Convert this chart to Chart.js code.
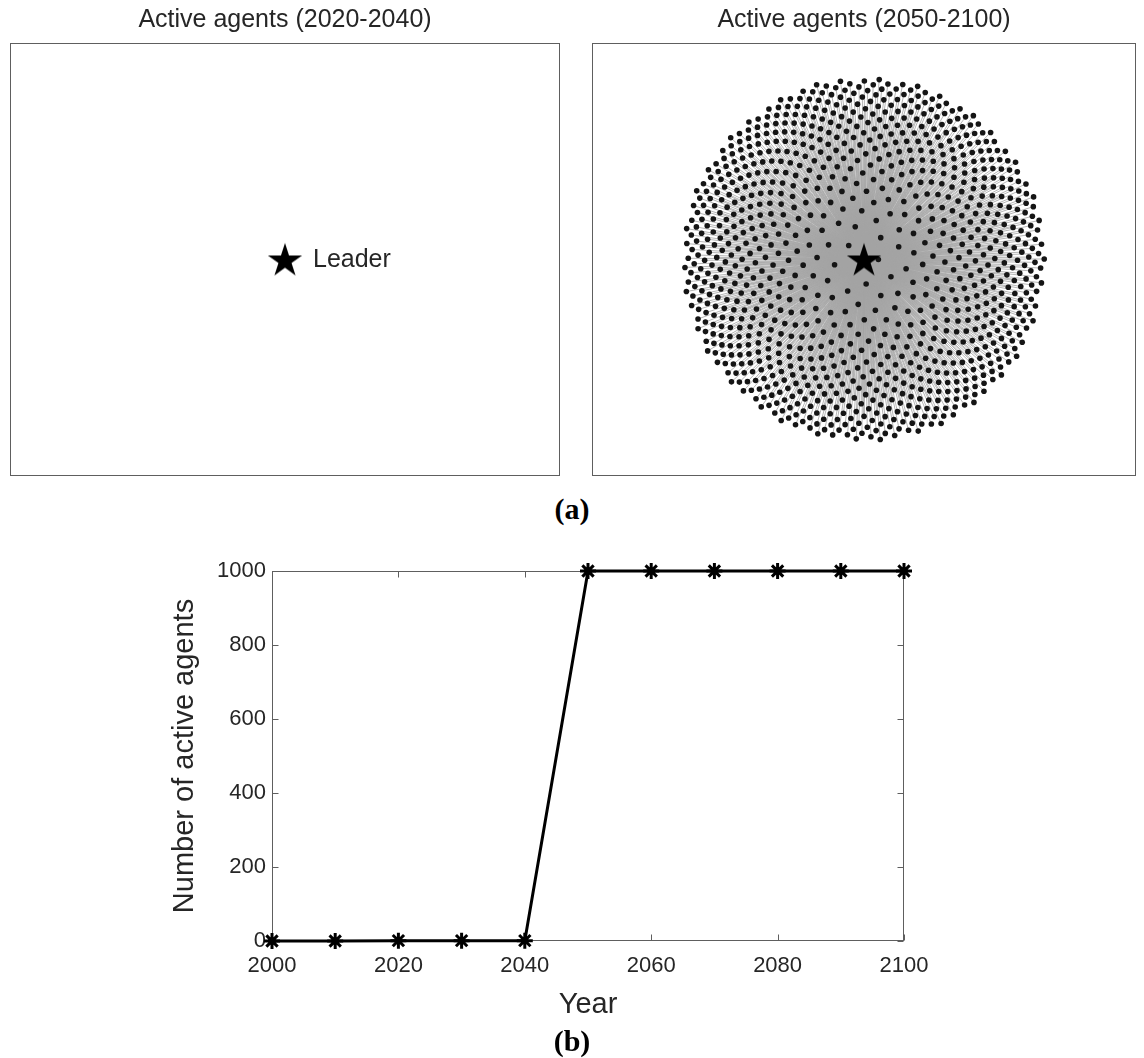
<!DOCTYPE html>
<html>
<head>
<meta charset="utf-8">
<script src="https://cdn.jsdelivr.net/npm/chart.js@4.4.1/dist/chart.umd.min.js"></script>
<style>
  body { margin: 0; background: #fff; width: 1144px; height: 1058px; position: relative; overflow: hidden; }
  canvas { position: absolute; }
  .cap { position: absolute; width: 100px; text-align: center; font-family: "Liberation Serif", "Times New Roman", serif;
         font-weight: bold; font-size: 30px; line-height: 30px; color: #000; }
</style>
</head>
<body>
<canvas id="early" width="550" height="476" style="left:10px;top:0"></canvas>
<canvas id="late" width="544" height="476" style="left:592px;top:0"></canvas>
<div class="cap" style="left:522px;top:494px">(a)</div>
<canvas id="growth" width="1144" height="480" style="left:0;top:545px"></canvas>
<div class="cap" style="left:522px;top:1026px">(b)</div>

<script>
'use strict';

/* ── Data ─────────────────────────────────────────────── */

var years        = [2000, 2010, 2020, 2030, 2040, 2050, 2060, 2070, 2080, 2090, 2100];
var activeAgents = [0, 0, 1, 1, 1, 1000, 1000, 1000, 1000, 1000, 1000];
var yearTicks    = [2000, 2020, 2040, 2060, 2080, 2100];
var agentTicks   = [0, 200, 400, 600, 800, 1000];

var panelTitles  = ['Active agents (2020-2040)', 'Active agents (2050-2100)'];
var leaderPos    = [0, 0];
var leaderLabel  = 'Leader';

/* 1000 agents around the leader in the 2050-2100 panel, laid out on a
   sunflower spiral that thins out towards the centre (as in the picture) */
var agentCount   = 1000;
var discRadius   = 1;
var radialPower  = 1 / 3;

/* ── Helpers ─────────────────────────────────────────── */

var FONT = '"Liberation Sans", Arial, Helvetica, sans-serif';
var INK  = '#262626';
var EDGE = '#5e5e5e';

function pentagram(outer) {
  var inner = outer * 0.382;
  var size  = Math.ceil(outer * 2) + 2;
  var c = document.createElement('canvas');
  c.width = size; c.height = size;
  var g = c.getContext('2d');
  g.translate(size / 2, size / 2 + outer * 0.08);
  g.beginPath();
  for (var i = 0; i < 10; i++) {
    var r = i % 2 ? inner : outer;
    var a = -Math.PI / 2 + i * Math.PI / 5;
    g.lineTo(r * Math.cos(a), r * Math.sin(a));
  }
  g.closePath();
  g.fillStyle = '#000';
  g.fill();
  return c;
}

function agentPoints() {
  var pts = [];
  var golden = Math.PI * (3 - Math.sqrt(5));
  for (var k = 0; k < agentCount; k++) {
    var r = discRadius * Math.pow((k + 0.5) / agentCount, radialPower);
    var a = k * golden;
    pts.push({ x: leaderPos[0] + r * Math.cos(a), y: leaderPos[1] + r * Math.sin(a) });
  }
  return pts;
}

/* spokes from the leader to every agent, broken by gaps */
function spokes(pts) {
  var out = [];
  pts.forEach(function (p) {
    out.push({ x: leaderPos[0], y: leaderPos[1] });
    out.push({ x: p.x, y: p.y });
    out.push({ x: p.x, y: null });
  });
  return out;
}

/* frame round the plot area */
var framePlugin = {
  id: 'frame',
  afterDraw: function (chart) {
    var a = chart.chartArea, ctx = chart.ctx;
    ctx.save();
    ctx.strokeStyle = EDGE;
    ctx.lineWidth = 1;
    ctx.strokeRect(a.left + 0.5, a.top + 0.5, a.right - a.left - 1, a.bottom - a.top - 1);
    ctx.restore();
  }
};

/* inward tick marks on all four sides + box */
var boxPlugin = {
  id: 'box',
  beforeDatasetsDraw: function (chart) {
    var a = chart.chartArea, ctx = chart.ctx;
    var xs = chart.scales.x, ys = chart.scales.y;
    var L = Math.round(a.left) + 0.5, R = Math.round(a.right) - 0.5;
    var T = Math.round(a.top) + 0.5, B = Math.round(a.bottom) - 0.5;
    var len = 6;
    ctx.save();
    ctx.strokeStyle = EDGE;
    ctx.lineWidth = 1;
    ctx.strokeRect(L, T, R - L, B - T);
    ctx.beginPath();
    xs.ticks.forEach(function (t) {
      var px = Math.round(xs.getPixelForValue(t.value)) + 0.5;
      ctx.moveTo(px, B); ctx.lineTo(px, B - len);
      ctx.moveTo(px, T); ctx.lineTo(px, T + len);
    });
    ys.ticks.forEach(function (t) {
      var py = Math.round(ys.getPixelForValue(t.value)) + 0.5;
      ctx.moveTo(L, py); ctx.lineTo(L + len, py);
      ctx.moveTo(R, py); ctx.lineTo(R - len, py);
    });
    ctx.stroke();
    ctx.restore();
  }
};

/* "Leader" text next to the star */
var leaderTextPlugin = {
  id: 'leaderText',
  afterDatasetsDraw: function (chart) {
    if (!chart.options.plugins.leaderText.show) return;
    var ctx = chart.ctx;
    var px = chart.scales.x.getPixelForValue(leaderPos[0]);
    var py = chart.scales.y.getPixelForValue(leaderPos[1]);
    ctx.save();
    ctx.font = '25px ' + FONT;
    ctx.fillStyle = INK;
    ctx.textBaseline = 'middle';
    ctx.fillText(leaderLabel, px + 28, py + 1);
    ctx.restore();
  }
};

function panelOptions(title, xHalf, yHalf, showLabel) {
  return {
    responsive: false,
    animation: false,
    events: [],
    layout: { padding: 0, autoPadding: false },
    plugins: {
      legend: { display: false },
      tooltip: { enabled: false },
      leaderText: { show: showLabel },
      title: {
        display: true,
        text: title,
        color: INK,
        font: { family: FONT, size: 25, weight: 'normal', lineHeight: 1.2 },
        padding: { top: 5, bottom: 8 }
      }
    },
    scales: {
      x: { type: 'linear', display: false, min: -xHalf, max: xHalf },
      y: { type: 'linear', display: false, min: -yHalf, max: yHalf }
    }
  };
}

var star = pentagram(18);

/* ── Panel (a), left: leader only ─────────────────────── */

new Chart(document.getElementById('early'), {
  type: 'scatter',
  data: {
    datasets: [{
      data: [{ x: leaderPos[0], y: leaderPos[1] }],
      pointStyle: star,
      pointRadius: 18
    }]
  },
  options: panelOptions(panelTitles[0], 275 / 181, 216 / 181, true),
  plugins: [framePlugin, leaderTextPlugin]
});

/* ── Panel (a), right: leader and agents ──────────────── */

var agents = agentPoints();

new Chart(document.getElementById('late'), {
  type: 'scatter',
  data: {
    datasets: [
      {
        data: [{ x: leaderPos[0], y: leaderPos[1] }],
        pointStyle: star,
        pointRadius: 18,
        order: 0
      },
      {
        data: agents,
        pointRadius: 2.8,
        pointBackgroundColor: '#151515',
        pointBorderWidth: 0,
        order: 1
      },
      {
        data: spokes(agents),
        showLine: true,
        spanGaps: false,
        borderColor: '#a3a3a3',
        borderWidth: 0.8,
        pointRadius: 0,
        order: 2
      }
    ]
  },
  options: panelOptions(panelTitles[1], 272 / 181, 216 / 181, false),
  plugins: [framePlugin, leaderTextPlugin]
});

/* ── Panel (b): number of active agents per year ──────── */

function plain(v) { return String(v); }

new Chart(document.getElementById('growth'), {
  type: 'scatter',
  data: {
    datasets: [{
      data: years.map(function (y, i) { return { x: y, y: activeAgents[i] }; }),
      showLine: true,
      borderColor: '#000',
      borderWidth: 3,
      pointStyle: 'star',
      pointRadius: 8,
      pointBorderColor: '#000',
      pointBorderWidth: 3,
      clip: false
    }]
  },
  options: {
    responsive: false,
    animation: false,
    events: [],
    layout: { padding: { left: 160, right: 240, top: 26, bottom: 4 }, autoPadding: false },
    plugins: { legend: { display: false }, tooltip: { enabled: false } },
    scales: {
      x: {
        type: 'linear',
        min: yearTicks[0],
        max: yearTicks[yearTicks.length - 1],
        afterBuildTicks: function (s) { s.ticks = yearTicks.map(function (v) { return { value: v }; }); },
        afterFit: function (s) { s.height = 80; },
        grid: { display: false, drawTicks: false },
        border: { display: false },
        ticks: { color: INK, padding: 12, maxRotation: 0, callback: plain, font: { family: FONT, size: 22 } },
        title: {
          display: true, text: 'Year', color: INK,
          font: { family: FONT, size: 29, lineHeight: 1 },
          padding: { top: 0, bottom: 2 }
        }
      },
      y: {
        type: 'linear',
        min: agentTicks[0],
        max: agentTicks[agentTicks.length - 1],
        afterBuildTicks: function (s) { s.ticks = agentTicks.map(function (v) { return { value: v }; }); },
        afterFit: function (s) { s.width = 112; },
        grid: { display: false, drawTicks: false },
        border: { display: false },
        ticks: { color: INK, padding: 6, callback: plain, font: { family: FONT, size: 22 } },
        title: {
          display: true, text: 'Number of active agents', color: INK,
          font: { family: FONT, size: 29, lineHeight: 1 },
          padding: { top: 10, bottom: 0 }
        }
      }
    }
  },
  plugins: [boxPlugin]
});
</script>
</body>
</html>
